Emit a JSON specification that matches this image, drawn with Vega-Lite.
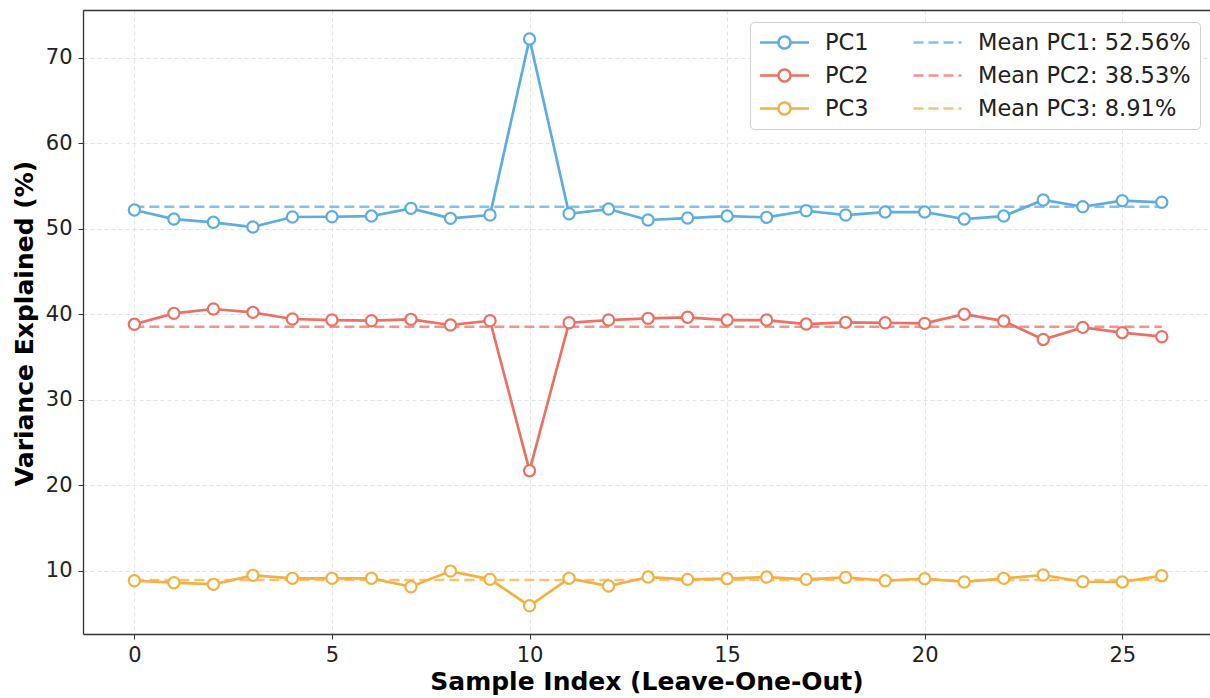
{
  "$schema": "https://vega.github.io/schema/vega-lite/v6.json",
  "width": 1127,
  "height": 624,
  "padding": {"left": 83, "top": 10, "right": 0, "bottom": 64},
  "autosize": {"type": "none"},
  "background": "white",
  "config": {
    "view": {"stroke": null},
    "font": "DejaVu Sans",
    "axis": {
      "labelFont": "DejaVu Sans",
      "titleFont": "DejaVu Sans",
      "labelFontSize": 21,
      "labelColor": "#222222",
      "tickSize": 5,
      "tickColor": "#333333",
      "tickWidth": 1,
      "domainColor": "#333333",
      "domainWidth": 1.3,
      "gridColor": "#dcdcdc",
      "gridDash": [4, 3],
      "gridWidth": 0.8,
      "titleFontSize": 25,
      "titleFontWeight": "bold",
      "titleColor": "#000000",
      "labelFlush": false
    }
  },
  "datasets": {
    "pcs": [
      {"index": 0, "series": "PC1", "value": 52.19},
      {"index": 1, "series": "PC1", "value": 51.13},
      {"index": 2, "series": "PC1", "value": 50.75},
      {"index": 3, "series": "PC1", "value": 50.2},
      {"index": 4, "series": "PC1", "value": 51.37},
      {"index": 5, "series": "PC1", "value": 51.4},
      {"index": 6, "series": "PC1", "value": 51.48},
      {"index": 7, "series": "PC1", "value": 52.38},
      {"index": 8, "series": "PC1", "value": 51.21},
      {"index": 9, "series": "PC1", "value": 51.6},
      {"index": 10, "series": "PC1", "value": 72.19},
      {"index": 11, "series": "PC1", "value": 51.75},
      {"index": 12, "series": "PC1", "value": 52.3},
      {"index": 13, "series": "PC1", "value": 51.02},
      {"index": 14, "series": "PC1", "value": 51.25},
      {"index": 15, "series": "PC1", "value": 51.48},
      {"index": 16, "series": "PC1", "value": 51.33},
      {"index": 17, "series": "PC1", "value": 52.1},
      {"index": 18, "series": "PC1", "value": 51.6},
      {"index": 19, "series": "PC1", "value": 51.95},
      {"index": 20, "series": "PC1", "value": 51.95},
      {"index": 21, "series": "PC1", "value": 51.13},
      {"index": 22, "series": "PC1", "value": 51.48},
      {"index": 23, "series": "PC1", "value": 53.36},
      {"index": 24, "series": "PC1", "value": 52.57},
      {"index": 25, "series": "PC1", "value": 53.28},
      {"index": 26, "series": "PC1", "value": 53.09},
      {"index": 0, "series": "PC2", "value": 38.82},
      {"index": 1, "series": "PC2", "value": 40.1},
      {"index": 2, "series": "PC2", "value": 40.61},
      {"index": 3, "series": "PC2", "value": 40.22},
      {"index": 4, "series": "PC2", "value": 39.44},
      {"index": 5, "series": "PC2", "value": 39.32},
      {"index": 6, "series": "PC2", "value": 39.24},
      {"index": 7, "series": "PC2", "value": 39.4},
      {"index": 8, "series": "PC2", "value": 38.74},
      {"index": 9, "series": "PC2", "value": 39.24},
      {"index": 10, "series": "PC2", "value": 21.7},
      {"index": 11, "series": "PC2", "value": 39.0},
      {"index": 12, "series": "PC2", "value": 39.32},
      {"index": 13, "series": "PC2", "value": 39.52},
      {"index": 14, "series": "PC2", "value": 39.64},
      {"index": 15, "series": "PC2", "value": 39.32},
      {"index": 16, "series": "PC2", "value": 39.32},
      {"index": 17, "series": "PC2", "value": 38.85},
      {"index": 18, "series": "PC2", "value": 39.05},
      {"index": 19, "series": "PC2", "value": 39.0},
      {"index": 20, "series": "PC2", "value": 38.93},
      {"index": 21, "series": "PC2", "value": 40.0},
      {"index": 22, "series": "PC2", "value": 39.2},
      {"index": 23, "series": "PC2", "value": 37.05},
      {"index": 24, "series": "PC2", "value": 38.46},
      {"index": 25, "series": "PC2", "value": 37.84},
      {"index": 26, "series": "PC2", "value": 37.37},
      {"index": 0, "series": "PC3", "value": 8.83},
      {"index": 1, "series": "PC3", "value": 8.6},
      {"index": 2, "series": "PC3", "value": 8.41},
      {"index": 3, "series": "PC3", "value": 9.46},
      {"index": 4, "series": "PC3", "value": 9.11},
      {"index": 5, "series": "PC3", "value": 9.11},
      {"index": 6, "series": "PC3", "value": 9.11},
      {"index": 7, "series": "PC3", "value": 8.13},
      {"index": 8, "series": "PC3", "value": 9.96},
      {"index": 9, "series": "PC3", "value": 8.99},
      {"index": 10, "series": "PC3", "value": 5.9},
      {"index": 11, "series": "PC3", "value": 9.11},
      {"index": 12, "series": "PC3", "value": 8.21},
      {"index": 13, "series": "PC3", "value": 9.26},
      {"index": 14, "series": "PC3", "value": 8.99},
      {"index": 15, "series": "PC3", "value": 9.07},
      {"index": 16, "series": "PC3", "value": 9.26},
      {"index": 17, "series": "PC3", "value": 8.99},
      {"index": 18, "series": "PC3", "value": 9.22},
      {"index": 19, "series": "PC3", "value": 8.83},
      {"index": 20, "series": "PC3", "value": 9.07},
      {"index": 21, "series": "PC3", "value": 8.68},
      {"index": 22, "series": "PC3", "value": 9.11},
      {"index": 23, "series": "PC3", "value": 9.5},
      {"index": 24, "series": "PC3", "value": 8.71},
      {"index": 25, "series": "PC3", "value": 8.68},
      {"index": 26, "series": "PC3", "value": 9.42}
    ],
    "means": [
      {"series": "Mean PC1: 52.56%", "start": 0, "end": 26, "mean": 52.56},
      {"series": "Mean PC2: 38.53%", "start": 0, "end": 26, "mean": 38.53},
      {"series": "Mean PC3: 8.91%", "start": 0, "end": 26, "mean": 8.91}
    ]
  },
  "layer": [
    {
      "data": {"name": "means"},
      "mark": {"type": "rule", "strokeDash": [10, 5], "strokeWidth": 2.5},
      "encoding": {
        "x": {
          "field": "start", "type": "quantitative",
          "scale": {"domain": [-1.3, 27.22], "nice": false, "zero": false},
          "axis": {
            "values": [0, 5, 10, 15, 20, 25],
            "grid": true,
            "labelPadding": 5,
            "title": "Sample Index (Leave-One-Out)",
            "titleY": 55,
            "titleBaseline": "alphabetic"
          }
        },
        "x2": {"field": "end"},
        "y": {
          "field": "mean", "type": "quantitative",
          "scale": {"domain": [2.6, 75.58], "nice": false, "zero": false},
          "axis": {
            "values": [10, 20, 30, 40, 50, 60, 70],
            "grid": true,
            "labelPadding": 6,
            "title": "Variance Explained (%)",
            "titleX": -59,
            "titleY": 313,
            "titleAngle": -90,
            "titleAlign": "center",
            "titleBaseline": "middle"
          }
        },
        "color": {
          "field": "series", "type": "nominal",
          "scale": {
            "domain": ["PC1", "PC2", "PC3", "Mean PC1: 52.56%", "Mean PC2: 38.53%", "Mean PC3: 8.91%"],
            "range": ["#5dade2", "#ec7063", "#f5b041", "#85c1e9", "#f1948a", "#f8c471"]
          },
          "legend": {
            "orient": "none",
            "legendX": 667,
            "legendY": 12,
            "columns": 2,
            "title": null,
            "labelFont": "DejaVu Sans",
            "labelFontSize": 22.5,
            "labelColor": "#222222",
            "labelLimit": 400,
            "symbolSize": 400,
            "symbolStrokeWidth": 2.5,
            "symbolOffset": 14,
            "labelOffset": 29,
            "rowPadding": 10,
            "columnPadding": 39,
            "padding": 9,
            "fillColor": "white",
            "strokeColor": "#d0d0d0",
            "cornerRadius": 4,
            "encode": {
              "symbols": {
                "update": {
                  "shape": {"signal": "indexof(datum.value, 'Mean') === 0 ? 'M-2.4,0L2.4,0' : 'M-2.45,0L-0.6,0M0.6,0L2.45,0M-0.6,0A0.6,0.6,0,1,1,0.6,0A0.6,0.6,0,1,1,-0.6,0'"},
                  "strokeDash": {"signal": "indexof(datum.value, 'Mean') === 0 ? [10, 5] : [1, 0]"},
                  "fill": {"signal": "indexof(datum.value, 'Mean') === 0 ? 'transparent' : 'white'"},
                  "fillOpacity": {"value": 1},
                  "opacity": {"value": 1},
                  "strokeWidth": {"value": 2.5}
                }
              }
            }
          }
        }
      }
    },
    {
      "data": {"name": "pcs"},
      "mark": {"type": "line", "strokeWidth": 2.7},
      "encoding": {
        "x": {
          "field": "index", "type": "quantitative",
          "axis": {"orient": "top", "labels": false, "ticks": false, "grid": false, "title": null}
        },
        "y": {"field": "value", "type": "quantitative", "axis": null},
        "color": {"field": "series", "type": "nominal"}
      }
    },
    {
      "data": {"name": "pcs"},
      "mark": {"type": "point", "filled": false, "fill": "white", "fillOpacity": 1, "size": 125, "strokeWidth": 2.2, "opacity": 1},
      "encoding": {
        "x": {"field": "index", "type": "quantitative", "axis": null},
        "y": {"field": "value", "type": "quantitative", "axis": null},
        "color": {"field": "series", "type": "nominal"}
      }
    }
  ],
  "resolve": {"axis": {"x": "independent", "y": "independent"}}
}
